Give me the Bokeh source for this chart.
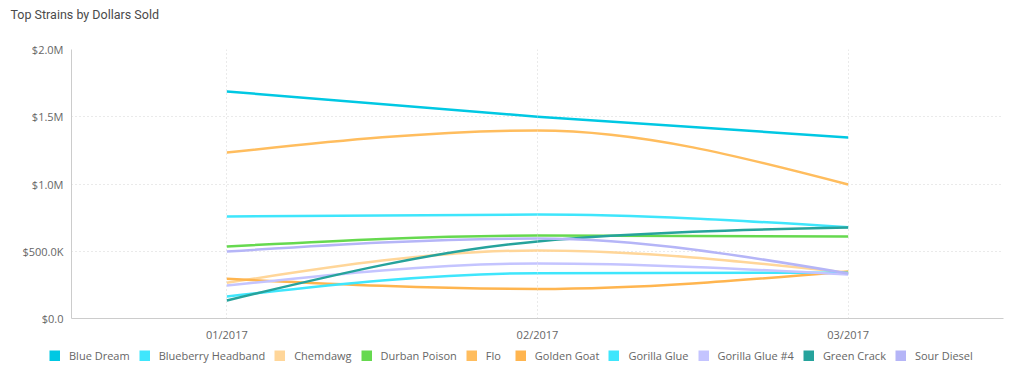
from bokeh.plotting import figure
from bokeh.models import FixedTicker, Legend, LegendItem, ColumnDataSource, Label
from bokeh.layouts import column
from bokeh.embed import file_html
from bokeh.resources import INLINE

title_text = "Top Strains by Dollars Sold"
months = ["01/2017", "02/2017", "03/2017"]
y_ticks = [0, 500000, 1000000, 1500000, 2000000]
y_tick_labels = ["$0.0", "$500.0K", "$1.0M", "$1.5M", "$2.0M"]

strains = ["Blue Dream", "Blueberry Headband", "Chemdawg", "Durban Poison", "Flo",
           "Golden Goat", "Gorilla Glue", "Gorilla Glue #4", "Green Crack", "Sour Diesel"]
colors = ["#00c8e3", "#3fe6fc", "#ffd699", "#66d94f", "#ffbd5e",
          "#ffb54f", "#3fe6fc", "#c4c4ff", "#26a39c", "#b5b5f7"]

blue_dream = [1688000, 1500000, 1346000]
blueberry_headband = [758000, 773000, 679000]
chemdawg = [265000, 506000, 340000]
durban_poison = [535000, 617000, 610000]
flo = [1234000, 1398000, 996000]
golden_goat = [295000, 220000, 350000]
gorilla_glue = [164000, 337000, 340000]
gorilla_glue_4 = [245000, 409000, 327000]
green_crack = [134000, 573000, 677000]
sour_diesel = [498000, 595000, 335000]

series = [blue_dream, blueberry_headband, chemdawg, durban_poison, flo,
          golden_goat, gorilla_glue, gorilla_glue_4, green_crack, sour_diesel]


def monotone_segments(xs, ys):
    """Cubic bezier segments following a monotone-X curve (d3 style)."""
    n = len(xs)
    h = [xs[i + 1] - xs[i] for i in range(n - 1)]
    s = [(ys[i + 1] - ys[i]) / h[i] for i in range(n - 1)]
    t = [0.0] * n

    def sign(v):
        return (v > 0) - (v < 0)

    for i in range(1, n - 1):
        h0, h1 = h[i - 1], h[i]
        s0, s1 = s[i - 1], s[i]
        p = (s0 * h1 + s1 * h0) / (h0 + h1)
        t[i] = (sign(s0) + sign(s1)) * min(abs(s0), abs(s1), 0.5 * abs(p))
    t[0] = (3 * s[0] - t[1]) / 2
    t[-1] = (3 * s[-1] - t[-2]) / 2
    seg = dict(x0=[], y0=[], x1=[], y1=[], cx0=[], cy0=[], cx1=[], cy1=[])
    for i in range(n - 1):
        dx = h[i] / 3
        seg["x0"].append(xs[i]); seg["y0"].append(ys[i])
        seg["x1"].append(xs[i + 1]); seg["y1"].append(ys[i + 1])
        seg["cx0"].append(xs[i] + dx); seg["cy0"].append(ys[i] + dx * t[i])
        seg["cx1"].append(xs[i + 1] - dx); seg["cy1"].append(ys[i + 1] - dx * t[i + 1])
    return seg


xpos = list(range(len(months)))
W = 1016

# title strip
tf = figure(width=W, height=22, output_backend="svg", toolbar_location=None,
            x_range=(0, W), y_range=(0, 22),
            min_border_left=0, min_border_right=0, min_border_top=0, min_border_bottom=0,
            x_axis_location=None, y_axis_location=None)
tf.outline_line_color = None
tf.xgrid.visible = False
tf.ygrid.visible = False
tf.frame_align = False
tf.add_layout(Label(x=10, y=8, text=title_text, text_font="Roboto",
                    text_font_size="12.5px", text_color="#4a4a4a",
                    text_baseline="middle", text_align="left"))

# main chart
p = figure(width=W, height=323, output_backend="svg", toolbar_location=None,
           x_range=(-0.5, len(months) - 0.5), y_range=(0, 2000000),
           min_border_left=71, min_border_right=13, min_border_top=27, min_border_bottom=27)
p.outline_line_color = None
p.background_fill_color = "white"
p.border_fill_color = "white"
p.frame_align = False

for name, vals, col in zip(strains, series, colors):
    seg = monotone_segments(xpos, vals)
    p.bezier(source=ColumnDataSource(seg), x0="x0", y0="y0", x1="x1", y1="y1",
             cx0="cx0", cy0="cy0", cx1="cx1", cy1="cy1",
             line_color=col, line_width=2.5)

p.xaxis.ticker = FixedTicker(ticks=xpos)
p.xaxis.major_label_overrides = {i: m for i, m in zip(xpos, months)}
p.yaxis.ticker = FixedTicker(ticks=y_ticks)
p.yaxis.major_label_overrides = {t: l for t, l in zip(y_ticks, y_tick_labels)}

for ax in (p.xaxis, p.yaxis):
    ax.axis_line_color = "#cccccc"
    ax.axis_line_width = 1
    ax.major_tick_line_color = None
    ax.minor_tick_line_color = None
    ax.major_tick_out = 0
    ax.major_tick_in = 0
    ax.minor_tick_out = 0
    ax.minor_tick_in = 0
    ax.major_label_text_font = "Open Sans"
    ax.major_label_text_font_size = "11px"
    ax.major_label_text_color = "#666666"
p.xaxis.major_label_standoff = 8
p.yaxis.major_label_standoff = 8

p.xgrid.grid_line_color = "#d5d5d5"
p.xgrid.grid_line_dash = "1 3"
p.ygrid.grid_line_color = "#d5d5d5"
p.ygrid.grid_line_dash = "1 3"

# legend strip below the chart (series drawn out of view, only swatches show)
lg = figure(width=W, height=34, output_backend="svg", toolbar_location=None,
            x_range=(0, 1), y_range=(-2, -1),
            min_border_left=0, min_border_right=0, min_border_top=0, min_border_bottom=0,
            x_axis_location=None, y_axis_location=None)
lg.outline_line_color = None
lg.xgrid.visible = False
lg.ygrid.visible = False
lg.frame_align = False

items = []
for name, vals, col in zip(strains, series, colors):
    sw = lg.line(x=xpos, y=vals, line_color=col, line_width=11, line_cap="butt")
    items.append(LegendItem(label=name, renderers=[sw]))

legend = Legend(items=items, orientation="horizontal", location=(49, 16),
                padding=0, margin=0, spacing=9, label_standoff=9,
                glyph_width=11, glyph_height=11, label_height=11,
                label_text_font="Open Sans", label_text_font_size="11px",
                label_text_color="#666666", border_line_color=None,
                background_fill_alpha=0)
lg.add_layout(legend, "center")

layout = column(tf, p, lg, spacing=0)
open("out.html", "w").write(file_html(layout, INLINE))
